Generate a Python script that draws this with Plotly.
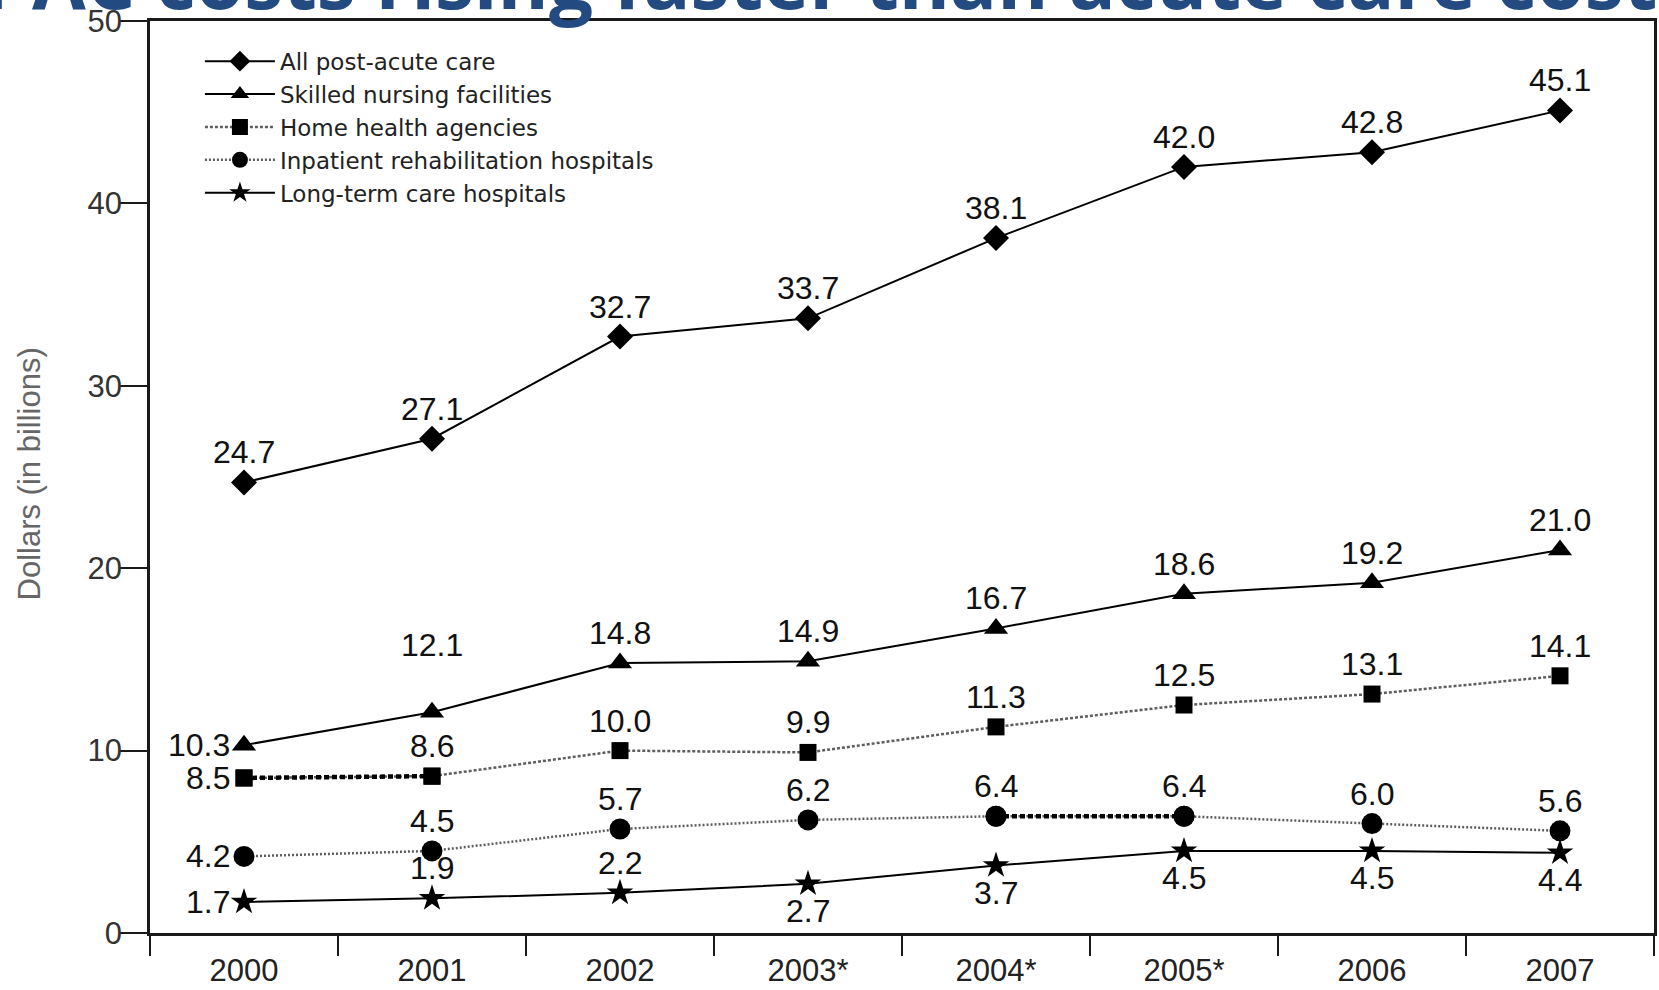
import plotly.graph_objects as go

# Medicare spending on post-acute care, dollars in billions
years = ["2000", "2001", "2002", "2003*", "2004*", "2005*", "2006", "2007"]
all_pac = [24.7, 27.1, 32.7, 33.7, 38.1, 42.0, 42.8, 45.1]
snf = [10.3, 12.1, 14.8, 14.9, 16.7, 18.6, 19.2, 21.0]
hha = [8.5, 8.6, 10.0, 9.9, 11.3, 12.5, 13.1, 14.1]
irf = [4.2, 4.5, 5.7, 6.2, 6.4, 6.4, 6.0, 5.6]
ltch = [1.7, 1.9, 2.2, 2.7, 3.7, 4.5, 4.5, 4.4]

series_names = [
    "All post-acute care",
    "Skilled nursing facilities",
    "Home health agencies",
    "Inpatient rehabilitation hospitals",
    "Long-term care hospitals",
]

# where each value label sits relative to its point
label_side = {
    "pac": ["up"] * 8,
    "snf": ["left", "high", "up", "up", "up", "up", "up", "up"],
    "hha": ["left", "up", "up", "up", "up", "up", "up", "up"],
    "irf": ["left", "up", "up", "up", "up", "up", "up", "up"],
    "ltch": ["left", "up", "up", "down", "down", "down", "down", "down"],
}

BASE_FONT = "Liberation Sans, Arial, sans-serif"
LABEL_FONT = dict(family=BASE_FONT, size=32, color="#111111")
GREY_DOT = "#5e5e5e"

fig = go.Figure()

fig.add_trace(go.Scatter(
    x=years, y=all_pac, name=series_names[0], mode="lines+markers",
    line=dict(color="black", width=2),
    marker=dict(symbol="diamond", size=20, color="black"),
))
fig.add_trace(go.Scatter(
    x=years, y=snf, name=series_names[1], mode="lines+markers",
    line=dict(color="black", width=2),
    marker=dict(symbol="triangle-up", size=21, color="black"),
))
fig.add_trace(go.Scatter(
    x=years, y=hha, name=series_names[2], mode="lines+markers",
    line=dict(color=GREY_DOT, width=2.5, dash="3px,2px"),
    marker=dict(symbol="square", size=17, color="black"),
))
fig.add_trace(go.Scatter(
    x=years, y=irf, name=series_names[3], mode="lines+markers",
    line=dict(color=GREY_DOT, width=2.5, dash="2px,2px"),
    marker=dict(symbol="circle", size=21, color="black"),
))
fig.add_trace(go.Scatter(
    x=years, y=ltch, name=series_names[4], mode="lines+markers",
    line=dict(color="black", width=2),
    marker=dict(symbol="star", size=20, color="black"),
))

# heavier dotted segments: home health 2000-2001, rehab hospitals 2004-2005
fig.add_trace(go.Scatter(
    x=years[0:2], y=hha[0:2], mode="lines", showlegend=False, hoverinfo="skip",
    line=dict(color="black", width=4.5, dash="5px,3px"),
))
fig.add_trace(go.Scatter(
    x=years[4:6], y=irf[4:6], mode="lines", showlegend=False, hoverinfo="skip",
    line=dict(color="black", width=4.5, dash="5px,3px"),
))
# redraw markers on top of the heavy segments
fig.add_trace(go.Scatter(
    x=years[0:2], y=hha[0:2], mode="markers", showlegend=False, hoverinfo="skip",
    marker=dict(symbol="square", size=17, color="black"),
))
fig.add_trace(go.Scatter(
    x=years[4:6], y=irf[4:6], mode="markers", showlegend=False, hoverinfo="skip",
    marker=dict(symbol="circle", size=21, color="black"),
))

annotations = []
for key, values in [("pac", all_pac), ("snf", snf), ("hha", hha), ("irf", irf), ("ltch", ltch)]:
    for i, (v, side) in enumerate(zip(values, label_side[key])):
        # category position given by index so numeric-looking years stay categorical
        a = dict(x=i, y=v, xref="x", yref="y", text=f"{v:.1f}", showarrow=False,
                 font=LABEL_FONT, yanchor="middle")
        if side == "left":
            a.update(xanchor="right", xshift=-12)
        elif side == "up":
            a.update(xanchor="center", yshift=30)
        elif side == "high":
            a.update(xanchor="center", yshift=67)
        else:
            a.update(xanchor="center", yshift=-27)
        annotations.append(a)

# y-axis title
annotations.append(dict(
    x=-0.0803, y=0.503, xref="paper", yref="paper", text="Dollars (in billions)",
    textangle=-90, showarrow=False, xanchor="center", yanchor="middle",
    font=dict(family=BASE_FONT, size=31, color="#666666"),
))
# slide heading running off the top edge
annotations.append(dict(
    x=0.4585, y=1.046, xref="paper", yref="paper",
    text="PAC costs rising faster than acute care costs",
    showarrow=False, xanchor="center", yanchor="middle",
    font=dict(family="Open Sans, sans-serif", size=78, color="#234b81", weight=700),
))

fig.update_layout(
    width=1659, height=990,
    margin=dict(l=150, r=2, t=21, b=57),
    paper_bgcolor="white", plot_bgcolor="white",
    annotations=annotations,
    showlegend=True,
    legend=dict(
        x=0.0332, y=0.9795, xanchor="left", yanchor="top",
        bgcolor="rgba(0,0,0,0)", borderwidth=0, itemwidth=70,
        font=dict(family="DejaVu Sans, sans-serif", size=23, color="#222222"),
    ),
    xaxis=dict(
        type="category", range=[-0.5, 7.5],
        showline=True, linecolor="#1a1a1a", linewidth=3, mirror=True,
        ticks="outside", tickson="boundaries", ticklen=20, tickwidth=2, tickcolor="#1a1a1a",
        showgrid=False, zeroline=False, ticklabelstandoff=8,
        tickfont=dict(family=BASE_FONT, size=31, color="#222222"),
    ),
    yaxis=dict(
        range=[0, 50], dtick=10,
        showline=True, linecolor="#1a1a1a", linewidth=2.5, mirror=True,
        ticks="outside", ticklen=27, tickwidth=2, tickcolor="#1a1a1a",
        showgrid=False, zeroline=False, ticklabelstandoff=-8,
        tickfont=dict(family=BASE_FONT, size=31, color="#333333"),
    ),
)

fig.write_html("out.html")
